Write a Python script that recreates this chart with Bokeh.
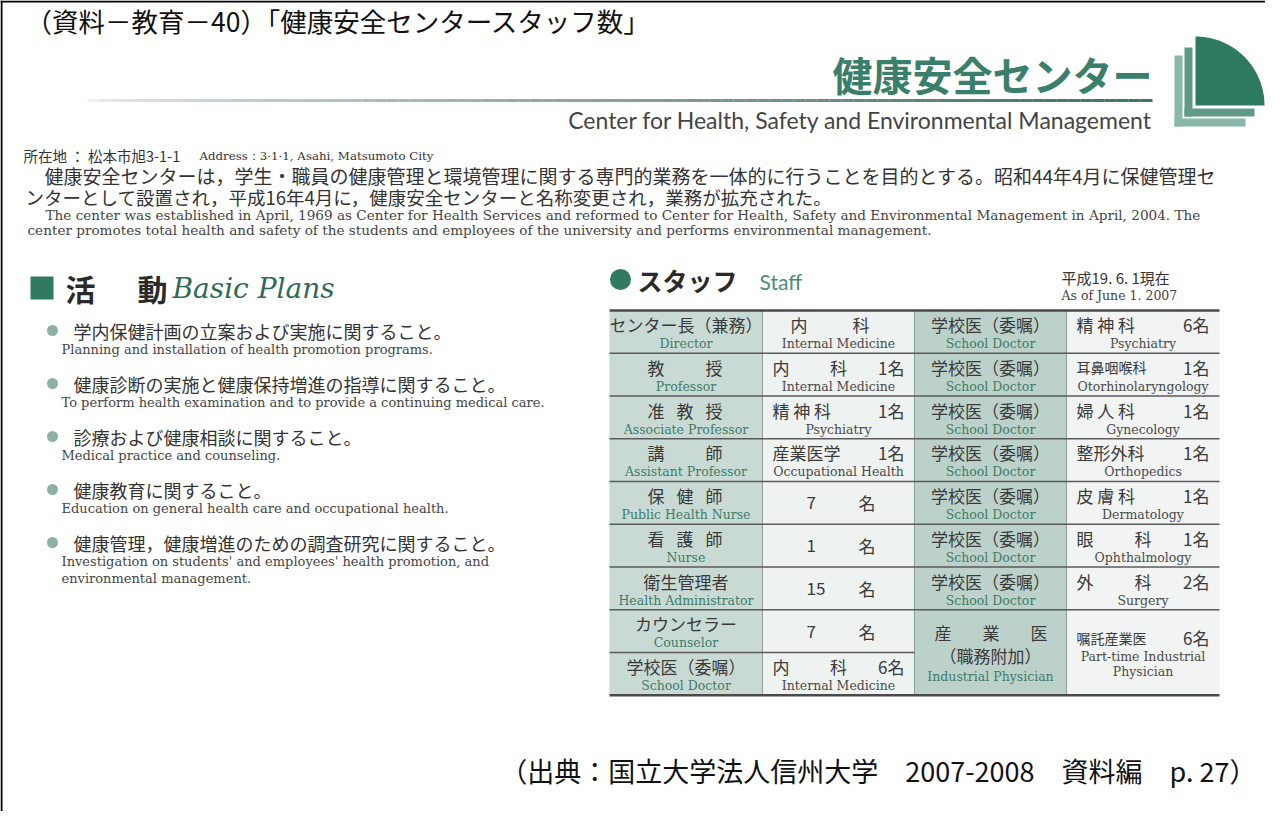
import numpy as np
from bokeh.plotting import figure
from bokeh.models import Range1d
from bokeh.core.properties import value
from bokeh.embed import file_html
from bokeh.resources import INLINE

# ---------------- data (texts) ----------------
title_text = "（資料－教育－40）「健康安全センタースタッフ数」"
center_jp = "健康安全センター"
center_en = "Center for Health, Safety and Environmental Management"
address_jp = "所在地 ： 松本市旭3-1-1"
address_en = "Address：3·1·1, Asahi, Matsumoto City"
intro_jp = [
    "健康安全センターは，学生・職員の健康管理と環境管理に関する専門的業務を一体的に行うことを目的とする。昭和44年4月に保健管理セ",
    "ンターとして設置され，平成16年4月に，健康安全センターと名称変更され，業務が拡充された。",
]
intro_en = [
    "The center was established in April, 1969 as Center for Health Services and reformed to Center for Health, Safety and Environmental Management in April, 2004. The",
    "center promotes total health and safety of the students and employees of the university and performs environmental management.",
]
plans_heading = ["活", "動"]
plans_heading_en = "Basic Plans"
plans_jp = [
    "学内保健計画の立案および実施に関すること。",
    "健康診断の実施と健康保持増進の指導に関すること。",
    "診療および健康相談に関すること。",
    "健康教育に関すること。",
    "健康管理，健康増進のための調査研究に関すること。",
]
plans_en = [
    ["Planning and installation of health promotion programs."],
    ["To perform health examination and to provide a continuing medical care."],
    ["Medical practice and counseling."],
    ["Education on general health care and occupational health."],
    ["Investigation on students' and employees' health promotion, and", "environmental management."],
]
staff_heading = "スタッフ"
staff_heading_en = "Staff"
as_of_jp = "平成19. 6. 1現在"
as_of_en = "As of June 1. 2007"

col0_jp = ["センター長（兼務）", "教|授", "准|教|授", "講|師", "保|健|師", "看|護|師", "衛生管理者", "カウンセラー", "学校医（委嘱）"]
col0_en = ["Director", "Professor", "Associate Professor", "Assistant Professor", "Public Health Nurse", "Nurse",
           "Health Administrator", "Counselor", "School Doctor"]
col1_jp = ["内|科", "内|科|1名", "精 神 科|1名", "産業医学|1名", "7|名", "1|名", "15|名", "7|名", "内|科|6名"]
col1_en = ["Internal Medicine", "Internal Medicine", "Psychiatry", "Occupational Health", "", "", "", "", "Internal Medicine"]
col2_jp = ["学校医（委嘱）"] * 7
col2_en = ["School Doctor"] * 7
col3_jp = ["精 神 科|6名", "耳鼻咽喉科|1名", "婦 人 科|1名", "整形外科|1名", "皮 膚 科|1名", "眼|科|1名", "外|科|2名"]
col3_en = ["Psychiatry", "Otorhinolaryngology", "Gynecology", "Orthopedics", "Dermatology", "Ophthalmology", "Surgery"]
merged2_jp = ["産|業|医", "（職務附加）"]
merged2_en = ["Industrial Physician"]
merged3_jp = ["嘱託産業医|6名"]
merged3_en = ["Part-time Industrial", "Physician"]
condensed = {"耳鼻咽喉科", "嘱託産業医"}
source_text = "（出典：国立大学法人信州大学　2007-2008　資料編　p. 27）"

# ---------------- styles ----------------
JP = "Noto Sans CJK JP"
SERIF = "DejaVu Serif"
GREEN = "#2f7a60"
TXT = "#333333"
EN_GREEN = "#3d7d68"

p = figure(width=1265, height=811, x_range=Range1d(8, 1273), y_range=Range1d(819, 8),
           output_backend="svg", toolbar_location=None, min_border=0,
           x_axis_type=None, y_axis_type=None, outline_line_color=None)
p.grid.visible = False
p.background_fill_color = "white"


def txt(x, y, s, size, color=TXT, font=JP, align="left", style="normal", baseline="middle"):
    p.text(x=[x], y=[y], text=[s], text_font=value(font), text_font_size=f"{size}px",
           text_color=color, text_align=align, text_baseline=baseline,
           text_font_style=value(style))


# frame
p.segment(x0=[9, 8], y0=[8, 9], x1=[9, 1273], y1=[819, 9], line_color="black", line_width=2)

# title
txt(33, 28, title_text, 26.5, "#111111")

# header
txt(1160, 81, center_jp, 40, "#3a7f69", align="right", style="bold")
gx = np.linspace(95, 1160, 90)
t = np.linspace(0, 1, 89) ** 0.7
c0 = np.array([236, 240, 238]); c1 = np.array([70, 112, 98])
cols = ["#%02x%02x%02x" % tuple((c0 + (c1 - c0) * tt).astype(int)) for tt in t]
p.segment(x0=gx[:-1], y0=[108] * 89, x1=gx[1:], y1=[108] * 89, line_color=cols, line_width=3)
txt(1160, 127, center_en, 23, "#444444", font="Lato", align="right")

# logo
p.quad(left=[1182, 1182], right=[1190, 1253], top=[63, 126], bottom=[134, 134], fill_color="#8ab8a8", line_color=None)
p.quad(left=[1192, 1192], right=[1200, 1262], top=[55, 116], bottom=[124, 124], fill_color="#5e9a85", line_color=None)
ang = np.linspace(0, np.pi / 2, 60)
p.patch(x=np.r_[1203, 1203 + 69 * np.cos(ang)], y=np.r_[113, 113 - 69 * np.sin(ang)],
        fill_color="#2e7a60", line_color=None)

# address + intro
txt(31, 163, address_jp, 14.5)
txt(207, 163, address_en, 11.8, font=SERIF)
txt(52, 183, intro_jp[0], 19)
txt(33, 204, intro_jp[1], 18.5)
txt(53, 222, intro_en[0], 13.6, "#444444", font=SERIF)
txt(35, 237, intro_en[1], 13.6, "#444444", font=SERIF)

# Basic plans
p.quad(left=[38], right=[61], top=[284], bottom=[307], fill_color=GREEN, line_color=None)
txt(73, 295, plans_heading[0], 30, "#2a2a2a", style="bold")
txt(145, 295, plans_heading[1], 30, "#2a2a2a", style="bold")
txt(180, 296, plans_heading_en, 28, "#2f6b59", font=SERIF, style="italic")
by = 338
for i, (jp, en) in enumerate(zip(plans_jp, plans_en)):
    y = by + i * 53
    p.scatter(x=[60], y=[y], size=11, marker="circle", fill_color="#8fb0a4", line_color=None)
    txt(81, y, jp, 18)
    for k, e in enumerate(en):
        txt(69, y + 19 + 17 * k, e, 13, "#444444", font=SERIF)

# Staff heading
p.scatter(x=[628], y=[287], size=21, marker="circle", fill_color=GREEN, line_color=None)
txt(645, 287, staff_heading, 25, "#2a2a2a", style="bold")
txt(767, 289, staff_heading_en, 21, "#4b8d77", font="Lato")
txt(1069, 285, as_of_jp, 15)
txt(1069, 303, as_of_en, 12.5, "#444444", font=SERIF)

# table
xb = [617, 770, 922, 1074, 1227]
top, rh = 318, 42.75
T = [top + i * rh for i in range(10)]
bgs = ["#c9dad5", "#eef2f0", "#bdd1cb", "#f1f4f3"]
L, R, TT, BB, C = [], [], [], [], []
for r in range(9):
    for c in range(4):
        if r >= 7 and c >= 2:
            continue
        L.append(xb[c]); R.append(xb[c + 1]); TT.append(T[r]); BB.append(T[r + 1]); C.append(bgs[c])
for c in (2, 3):
    L.append(xb[c]); R.append(xb[c + 1]); TT.append(T[7]); BB.append(T[9]); C.append(bgs[c])
p.quad(left=L, right=R, top=TT, bottom=BB, fill_color=C, line_color=None)
p.segment(x0=xb[1:4], y0=[T[0]] * 3, x1=xb[1:4], y1=[T[9]] * 3, line_color="#8f9e99", line_width=1)
p.segment(x0=[617] * 7 + [617], y0=T[1:8] + [T[8]], x1=[1227] * 7 + [922], y1=T[1:8] + [T[8]],
          line_color="#5a5a5a", line_width=1.5)
p.segment(x0=[617, 617], y0=[T[0], T[9]], x1=[1227, 1227], y1=[T[0], T[9]], line_color="#4a4a4a", line_width=2.5)


def insets(c, label):
    toks = label.split("|")
    if c == 0:
        return 38, 40
    if c == 1:
        if toks[0].isdigit():
            return 44, 39
        if len(toks) == 2 and toks[1] == "科":
            return 28, 45
        return 10, 10
    if c == 2:
        return 20, 19
    return 10, 10


def cell_jp(c, label, y):
    left, right = xb[c], xb[c + 1]
    toks = label.split("|")
    if len(toks) == 1:
        size = 14 if label in condensed else 17
        txt((left + right) / 2, y, label, size, "#3a3a3a", align="center")
        return
    il, ir = insets(c, label)
    a, b = left + il, right - ir
    n = len(toks)
    for i, tk in enumerate(toks):
        pos = a + i * (b - a) / (n - 1)
        al = "left" if i == 0 else ("right" if i == n - 1 else "center")
        size = 14 if tk in condensed else 17
        txt(pos, y, tk, size, "#3a3a3a", align=al)


cols_jp = [col0_jp, col1_jp, col2_jp, col3_jp]
cols_en = [col0_en, col1_en, col2_en, col3_en]
for c in range(4):
    for r, (jp, en) in enumerate(zip(cols_jp[c], cols_en[c])):
        if en:
            cell_jp(c, jp, T[r] + 14)
            txt((xb[c] + xb[c + 1]) / 2, T[r] + 33, en, 12.5, EN_GREEN if c in (0, 2) else "#4a4a4a",
                font=SERIF, align="center")
        else:
            cell_jp(c, jp, T[r] + rh / 2)

cell_jp(2, merged2_jp[0], 640)
cell_jp(2, merged2_jp[1], 663)
txt((xb[2] + xb[3]) / 2, 684, merged2_en[0], 12.5, EN_GREEN, font=SERIF, align="center")
cell_jp(3, merged3_jp[0], 645)
txt((xb[3] + xb[4]) / 2, 664, merged3_en[0], 12.5, "#4a4a4a", font=SERIF, align="center")
txt((xb[3] + xb[4]) / 2, 679, merged3_en[1], 12.5, "#4a4a4a", font=SERIF, align="center")

# source
txt(1264, 778, source_text, 27, "#111111", align="right")

open("out.html", "w").write(file_html(p, INLINE))
